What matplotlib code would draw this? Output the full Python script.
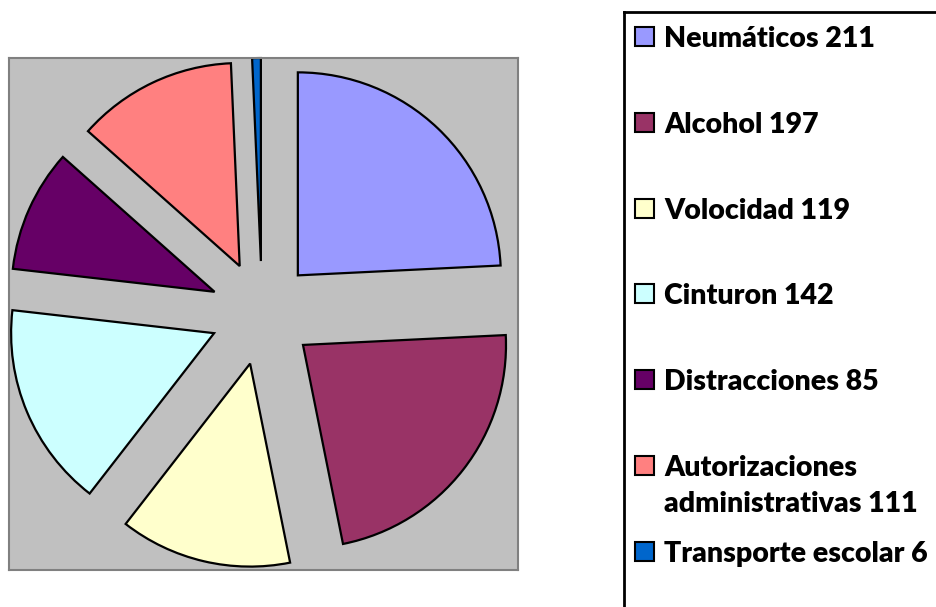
import matplotlib.pyplot as plt
from matplotlib.patches import Rectangle

names = ["Neumáticos", "Alcohol", "Volocidad", "Cinturon", "Distracciones",
         "Autorizaciones\nadministrativas", "Transporte escolar"]
values = [211, 197, 119, 142, 85, 111, 6]
colors = ["#9999FF", "#993366", "#FFFFCC", "#CCFFFF", "#660066", "#FF8080", "#0066CC"]

W, H = 937, 607
fig = plt.figure(figsize=(W / 100, H / 100), dpi=100)
fig.patch.set_facecolor("white")

# plot area (pixels): x 9..518, y 58..570, pie centre at (262, 313), radius 203 px
r = 203.0
ax = fig.add_axes([9 / W, (H - 570) / H, 509 / W, 512 / H])
ax.pie(values, colors=colors, startangle=90, counterclock=False,
       explode=[0.256] * len(values), radius=1,
       wedgeprops=dict(edgecolor="black", linewidth=1.6))
ax.set_xlim(-253 / r, 256 / r)
ax.set_ylim(-257 / r, 255 / r)
ax.set_aspect("auto")
ax.set_frame_on(True)
ax.set_xticks([])
ax.set_yticks([])
ax.set_facecolor("#C0C0C0")
for s in ax.spines.values():
    s.set_visible(True)
    s.set_color("#808080")
    s.set_linewidth(1.5)

# legend drawn in pixel coordinates
lax = fig.add_axes([0, 0, 1, 1], zorder=5)
lax.set_xlim(0, W)
lax.set_ylim(H, 0)
lax.axis("off")
lax.patch.set_alpha(0)
lax.plot([624, W + 5], [12, 12], color="black", lw=2, solid_capstyle="projecting")
lax.plot([624, 624], [12, H + 5], color="black", lw=2, solid_capstyle="projecting")

for i, (n, v, c) in enumerate(zip(names, values, colors)):
    base = 47 + i * 85.8
    lax.add_patch(Rectangle((635, base - 20), 19, 19, facecolor=c,
                            edgecolor="black", lw=1.5))
    lines = f"{n} {v}".split("\n")
    for j, line in enumerate(lines):
        lax.text(664, base + j * 36, line, fontsize=20.5, fontweight="heavy",
                 family="Lato", va="baseline", ha="left", color="black")

fig.savefig("out.png", dpi=100)
